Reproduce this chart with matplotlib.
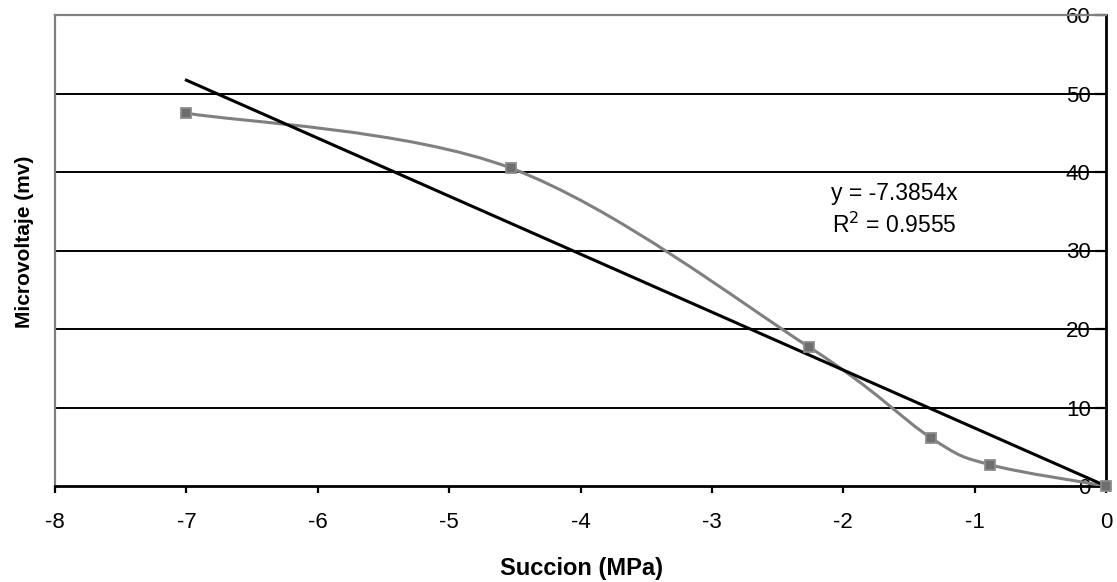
import matplotlib
matplotlib.use("Agg")
import matplotlib.pyplot as plt
import numpy as np
from matplotlib.path import Path
from matplotlib.patches import PathPatch

plt.rcParams['font.family'] = ['Liberation Sans', 'DejaVu Sans']

# measured suction vs. microvoltage
succion = [-7.0, -4.53, -2.26, -1.33, -0.88, 0.0]
microvoltaje = [47.5, 40.5, 17.7, 6.1, 2.7, 0.0]

# linear trend through the origin
pendiente = -7.3854
r2 = 0.9555

x_ticks = [-8, -7, -6, -5, -4, -3, -2, -1, 0]
y_ticks = [0, 10, 20, 30, 40, 50, 60]

GRAY = '#808080'


def smooth_path(xs, ys, tension=1.0 / 6):
    """Bezier path through the points (spreadsheet-style smoothed line)."""
    pts = np.column_stack([xs, ys])
    n = len(pts)
    verts = [pts[0]]
    codes = [Path.MOVETO]
    for i in range(n - 1):
        p0 = pts[max(i - 1, 0)]
        p1 = pts[i]
        p2 = pts[i + 1]
        p3 = pts[min(i + 2, n - 1)]
        c1 = p1 + (p2 - p0) * tension
        c2 = p2 - (p3 - p1) * tension
        verts += [c1, c2, p2]
        codes += [Path.CURVE4] * 3
    return Path(verts, codes)


fig = plt.figure(figsize=(11.17, 5.82), dpi=100)
ax = fig.add_axes([55 / 1117, 96 / 582, 1051 / 1117, 471 / 582])

ax.set_xlim(-8, 0)
ax.set_ylim(0, 60)

# horizontal gridlines
for yv in y_ticks[1:-1]:
    ax.axhline(yv, color='black', lw=1.4, zorder=1)

# data series
ax.add_patch(PathPatch(smooth_path(succion, microvoltaje), facecolor='none',
                       edgecolor=GRAY, lw=2.2, zorder=3))
ax.plot(succion, microvoltaje, ls='none', marker='s', markersize=7,
        mfc='#6e6e6e', mec='#8c8c8c', mew=1.3, zorder=4, clip_on=False)

# trendline
xt = np.array([succion[0], 0.0])
ax.plot(xt, pendiente * xt, color='black', lw=2.2, zorder=3)

ax.text(-1.61, 37.3, f'y = {pendiente}x', ha='center', va='center', fontsize=16.5)
ax.text(-1.61, 33.2, f'R$^2$ = {r2}', ha='center', va='center', fontsize=16.5)

# spines
for side in ('left', 'top'):
    ax.spines[side].set_color(GRAY)
    ax.spines[side].set_linewidth(1.6)
for side in ('bottom', 'right'):
    ax.spines[side].set_color('black')
    ax.spines[side].set_linewidth(2.0)

ax.set_xticks(x_ticks)
ax.set_xticklabels([str(v) for v in x_ticks])
ax.set_yticks(y_ticks)
ax.set_yticklabels([str(v) for v in y_ticks])

ax.tick_params(axis='x', direction='out', length=5, width=1.6, pad=14,
               labelsize=16)
ax.tick_params(axis='y', left=False, right=True, labelleft=False,
               labelright=True, direction='in', length=8, width=1.6,
               pad=-11, labelsize=16)
for lbl in ax.get_yticklabels():
    lbl.set_horizontalalignment('right')

fig.text(582 / 1117, 1 - 568 / 582, 'Succion (MPa)', ha='center', va='center',
         fontsize=17, fontweight='bold')
fig.text(24 / 1117, 1 - 242 / 582, 'Microvoltaje (mv)', ha='center',
         va='center', rotation=90, fontsize=15, fontweight='bold')

fig.savefig('out.png', dpi=100)
